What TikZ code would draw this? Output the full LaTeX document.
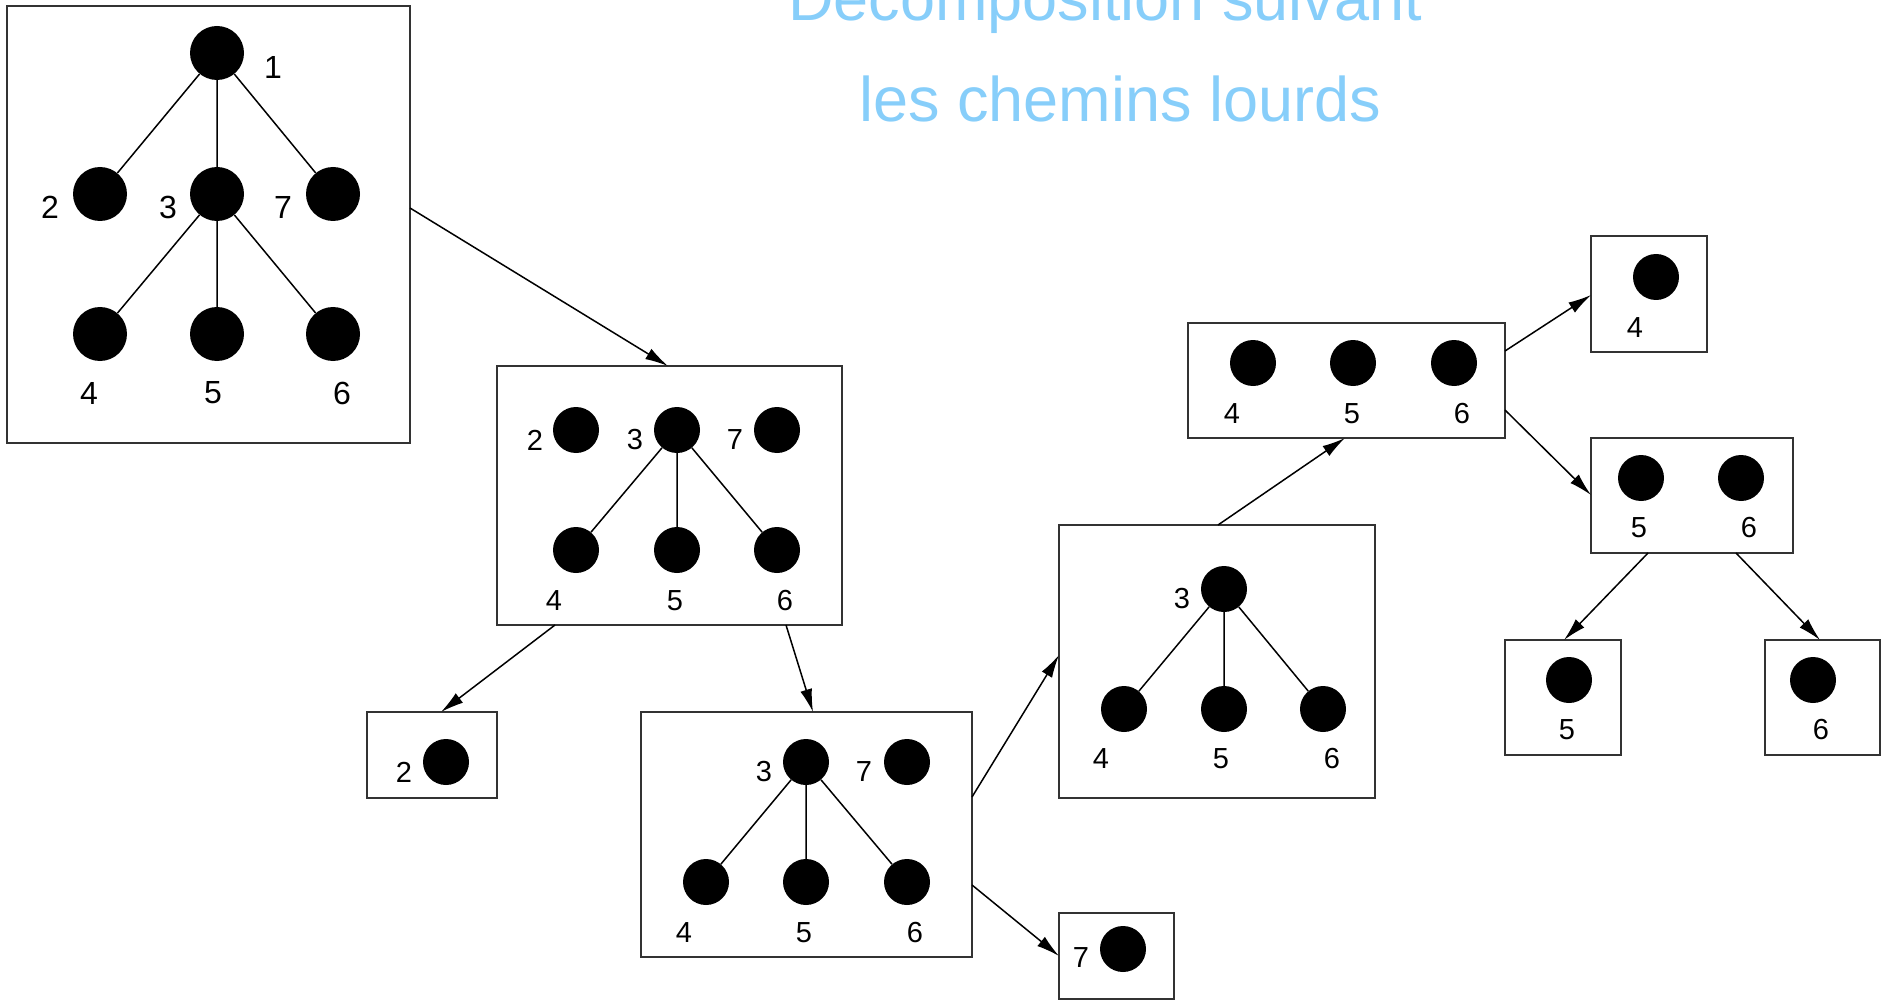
\documentclass[tikz,border=0pt]{standalone}
\usepackage{fontspec}
\setmainfont{Liberation Sans}
\usepackage{tikz}
\usetikzlibrary{calc,arrows.meta}
\definecolor{titre}{HTML}{87CEFA}
\definecolor{cadre}{HTML}{333333}
\tikzset{
  boite/.style={draw=cadre, line width=2pt, rectangle, inner sep=0pt, outer sep=0pt},
  vtx/.style={circle, fill=black, inner sep=0pt, minimum size=46pt},
  vtxA/.style={circle, fill=black, inner sep=0pt, minimum size=54pt},
  arete/.style={draw=black, line width=1.5pt},
  fleche/.style={draw=black, line width=1.5pt, -{Latex[length=23pt,width=12pt]}},
  num/.style={font=\fontsize{29}{34}\selectfont, inner sep=0pt},
  numA/.style={font=\fontsize{32}{38}\selectfont, inner sep=0pt},
  tit/.style={text=titre, font=\fontsize{63}{70}\selectfont, anchor=base, inner sep=0pt},
}

\begin{document}
\begin{tikzpicture}[x=1pt,y=-1pt]
  \useasboundingbox (0,0) rectangle (1887,1000);

  % titre
  \node[tit] (titreA) at (1105,21) {Décomposition suivant};
  \node[tit] (titreB) at (1120,122) {les chemins lourds};

  % boites
  \node[boite, minimum width=403pt, minimum height=437pt] (bA) at (208.5,224.5) {};
  \node[boite, minimum width=345pt, minimum height=259pt] (bB) at (669.5,495.5) {};
  \node[boite, minimum width=130pt, minimum height=86pt] (bC) at (432,755) {};
  \node[boite, minimum width=331pt, minimum height=245pt] (bD) at (806.5,834.5) {};
  \node[boite, minimum width=115pt, minimum height=86pt] (bE) at (1116.5,956) {};
  \node[boite, minimum width=316pt, minimum height=273pt] (bF) at (1217,661.5) {};
  \node[boite, minimum width=317pt, minimum height=115pt] (bG) at (1346.5,380.5) {};
  \node[boite, minimum width=116pt, minimum height=116pt] (bH) at (1649,294) {};
  \node[boite, minimum width=202pt, minimum height=115pt] (bI) at (1692,495.5) {};
  \node[boite, minimum width=116pt, minimum height=115pt] (bJ) at (1563,697.5) {};
  \node[boite, minimum width=115pt, minimum height=115pt] (bK) at (1822.5,697.5) {};

  % arbre complet
  \node[vtxA] (a1) at (217,53) {};
  \node[vtxA] (a2) at (100,194) {};
  \node[vtxA] (a3) at (217,194) {};
  \node[vtxA] (a7) at (333,194) {};
  \node[vtxA] (a4) at (100,334) {};
  \node[vtxA] (a5) at (217,334) {};
  \node[vtxA] (a6) at (333,334) {};
  \draw[arete] (a1)--(a2) (a1)--(a3) (a1)--(a7);
  \draw[arete] (a3)--(a4) (a3)--(a5) (a3)--(a6);
  \node[numA] (la1) at (273,67) {1};
  \node[numA] (la2) at (50,207) {2};
  \node[numA] (la3) at (168,207) {3};
  \node[numA] (la7) at (283,207) {7};
  \node[numA] (la4) at (89,393) {4};
  \node[numA] (la5) at (213,393) {5};
  \node[numA] (la6) at (342,393) {6};

  % sans la racine
  \node[vtx] (b2) at (576,430) {};
  \node[vtx] (b3) at (677,430) {};
  \node[vtx] (b7) at (777,430) {};
  \node[vtx] (b4) at (576,550) {};
  \node[vtx] (b5) at (677,550) {};
  \node[vtx] (b6) at (777,550) {};
  \draw[arete] (b3)--(b4) (b3)--(b5) (b3)--(b6);
  \node[num] (lb2) at (535,440) {2};
  \node[num] (lb3) at (635,440) {3};
  \node[num] (lb7) at (735,440) {7};
  \node[num] (lb4) at (554,601) {4};
  \node[num] (lb5) at (675,601) {5};
  \node[num] (lb6) at (785,601) {6};

  \node[vtx] (c2) at (446,762) {};
  \node[num] (lc2) at (404,772) {2};

  \node[vtx] (d3) at (806,762) {};
  \node[vtx] (d7) at (907,762) {};
  \node[vtx] (d4) at (706,882) {};
  \node[vtx] (d5) at (806,882) {};
  \node[vtx] (d6) at (907,882) {};
  \draw[arete] (d3)--(d4) (d3)--(d5) (d3)--(d6);
  \node[num] (ld3) at (764,772) {3};
  \node[num] (ld7) at (864,772) {7};
  \node[num] (ld4) at (684,933) {4};
  \node[num] (ld5) at (804,933) {5};
  \node[num] (ld6) at (915,933) {6};

  \node[vtx] (e7) at (1123,949) {};
  \node[num] (le7) at (1081,958) {7};

  \node[vtx] (f3) at (1224,589) {};
  \node[vtx] (f4) at (1124,709) {};
  \node[vtx] (f5) at (1224,709) {};
  \node[vtx] (f6) at (1323,709) {};
  \draw[arete] (f3)--(f4) (f3)--(f5) (f3)--(f6);
  \node[num] (lf3) at (1182,599) {3};
  \node[num] (lf4) at (1101,759) {4};
  \node[num] (lf5) at (1221,759) {5};
  \node[num] (lf6) at (1332,759) {6};

  % feuilles
  \node[vtx] (g4) at (1253,363) {};
  \node[vtx] (g5) at (1353,363) {};
  \node[vtx] (g6) at (1454,363) {};
  \node[num] (lg4) at (1232,414) {4};
  \node[num] (lg5) at (1352,414) {5};
  \node[num] (lg6) at (1462,414) {6};

  \node[vtx] (h4) at (1656,277) {};
  \node[num] (lh4) at (1635,328) {4};

  \node[vtx] (i5) at (1641,478) {};
  \node[vtx] (i6) at (1741,478) {};
  \node[num] (li5) at (1639,528) {5};
  \node[num] (li6) at (1749,528) {6};

  \node[vtx] (j5) at (1569,680) {};
  \node[num] (lj5) at (1567,730) {5};

  \node[vtx] (k6) at (1813,680) {};
  \node[num] (lk6) at (1821,730) {6};

  % decoupes
  \draw[fleche] ($(bA.north east)+(0,202)$) -- ($(bB.north west)+(171,0)$);
  \draw[fleche] ($(bB.south west)+(58,0)$) -- ($(bC.north west)+(74,0)$);
  \draw[fleche] ($(bB.south west)+(289,0)$) -- ($(bD.north west)+(172,0)$);
  \draw[fleche] ($(bD.north east)+(0,85)$) -- ($(bF.north west)+(0,130)$);
  \draw[fleche] ($(bD.north east)+(0,173)$) -- ($(bE.north west)+(0,43)$);
  \draw[fleche] ($(bF.north west)+(159,0)$) -- ($(bG.south west)+(157,0)$);
  \draw[fleche] ($(bG.north east)+(0,28)$) -- ($(bH.north west)+(0,59)$);
  \draw[fleche] ($(bG.north east)+(0,87)$) -- ($(bI.north west)+(0,57)$);
  \draw[fleche] ($(bI.south west)+(57,0)$) -- ($(bJ.north west)+(59,0)$);
  \draw[fleche] ($(bI.south west)+(145,0)$) -- ($(bK.north west)+(55,0)$);
\end{tikzpicture}
\end{document}
